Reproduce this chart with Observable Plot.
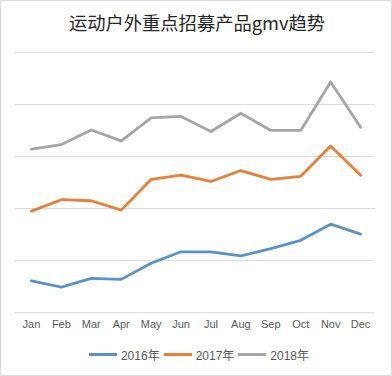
<!DOCTYPE html>
<html>
<head>
<meta charset="utf-8">
<script src="https://cdn.jsdelivr.net/npm/d3@7"></script>
<script src="https://cdn.jsdelivr.net/npm/@observablehq/plot@0.6"></script>
<style>
  body { margin: 0; background: #fff; }
  #wrap { position: relative; width: 390px; height: 374px; border: 1px solid #d9d9d9; overflow: hidden; background: #fff; font-family: "Noto Sans CJK SC", "Noto Sans", sans-serif; }
  #title { position: absolute; top: 8px; left: 0; width: 392px; text-align: center; font-size: 18.3px; color: #262626; }
  #chart { position: absolute; top: -1px; left: -1px; }
  #legend { position: absolute; top: 345px; left: 2px; width: 392px; display: flex; justify-content: center; align-items: center; font-size: 12px; color: #595959; font-family: "Liberation Sans", "Noto Sans CJK SC", sans-serif; }
  .item { display: flex; align-items: center; margin: 0 2px; }
  .sw { display: inline-block; width: 28px; height: 3px; margin-right: 4px; }
</style>
</head>
<body>
<div id="wrap">
  <div id="title">运动户外重点招募产品gmv趋势</div>
  <div id="chart"></div>
  <div id="legend"></div>
</div>
<script>
const months = ["Jan","Feb","Mar","Apr","May","Jun","Jul","Aug","Sep","Oct","Nov","Dec"];
const seriesNames = ["2016年","2017年","2018年"];
const colors = ["#5b93c8","#e8803a","#a5a5a5"];
const v2016 = [0.61,0.49,0.66,0.64,0.95,1.17,1.17,1.09,1.23,1.39,1.70,1.51];
const v2017 = [1.95,2.17,2.15,1.97,2.56,2.64,2.52,2.73,2.56,2.62,3.20,2.64];
const v2018 = [3.14,3.23,3.51,3.30,3.74,3.77,3.48,3.83,3.50,3.50,4.43,3.56];
const yTicks = [0,1,2,3,4,5];

const allVals = [v2016, v2017, v2018];
const data = [];
seriesNames.forEach((s, i) => months.forEach((m, j) => data.push({series: s, month: m, value: allVals[i][j]})));

const chart = Plot.plot({
  width: 392, height: 376,
  marginTop: 52, marginBottom: 63, marginLeft: 15, marginRight: 16,
  style: {background: "transparent", fontFamily: "Liberation Sans, sans-serif"},
  x: {type: "point", domain: months, padding: 0.5, label: null},
  y: {domain: [0, 5], label: null},
  color: {domain: seriesNames, range: colors},
  marks: [
    Plot.gridY(yTicks, {stroke: "#d9d9d9", strokeOpacity: 1, strokeWidth: 1}),
    Plot.axisX({tickSize: 0, tickPadding: 8, fontSize: 11, color: "#595959", label: null}),
    Plot.axisY({ticks: [], label: null}),
    Plot.line(data, {x: "month", y: "value", z: "series", stroke: "series", strokeWidth: 2.8, strokeLinejoin: "round", strokeLinecap: "round"})
  ]
});
document.getElementById("chart").appendChild(chart);

const legend = document.getElementById("legend");
seriesNames.forEach((s, i) => {
  const it = document.createElement("span");
  it.className = "item";
  it.innerHTML = `<span class="sw" style="background:${colors[i]}"></span><span>${s}</span>`;
  legend.appendChild(it);
});
</script>
</body>
</html>
